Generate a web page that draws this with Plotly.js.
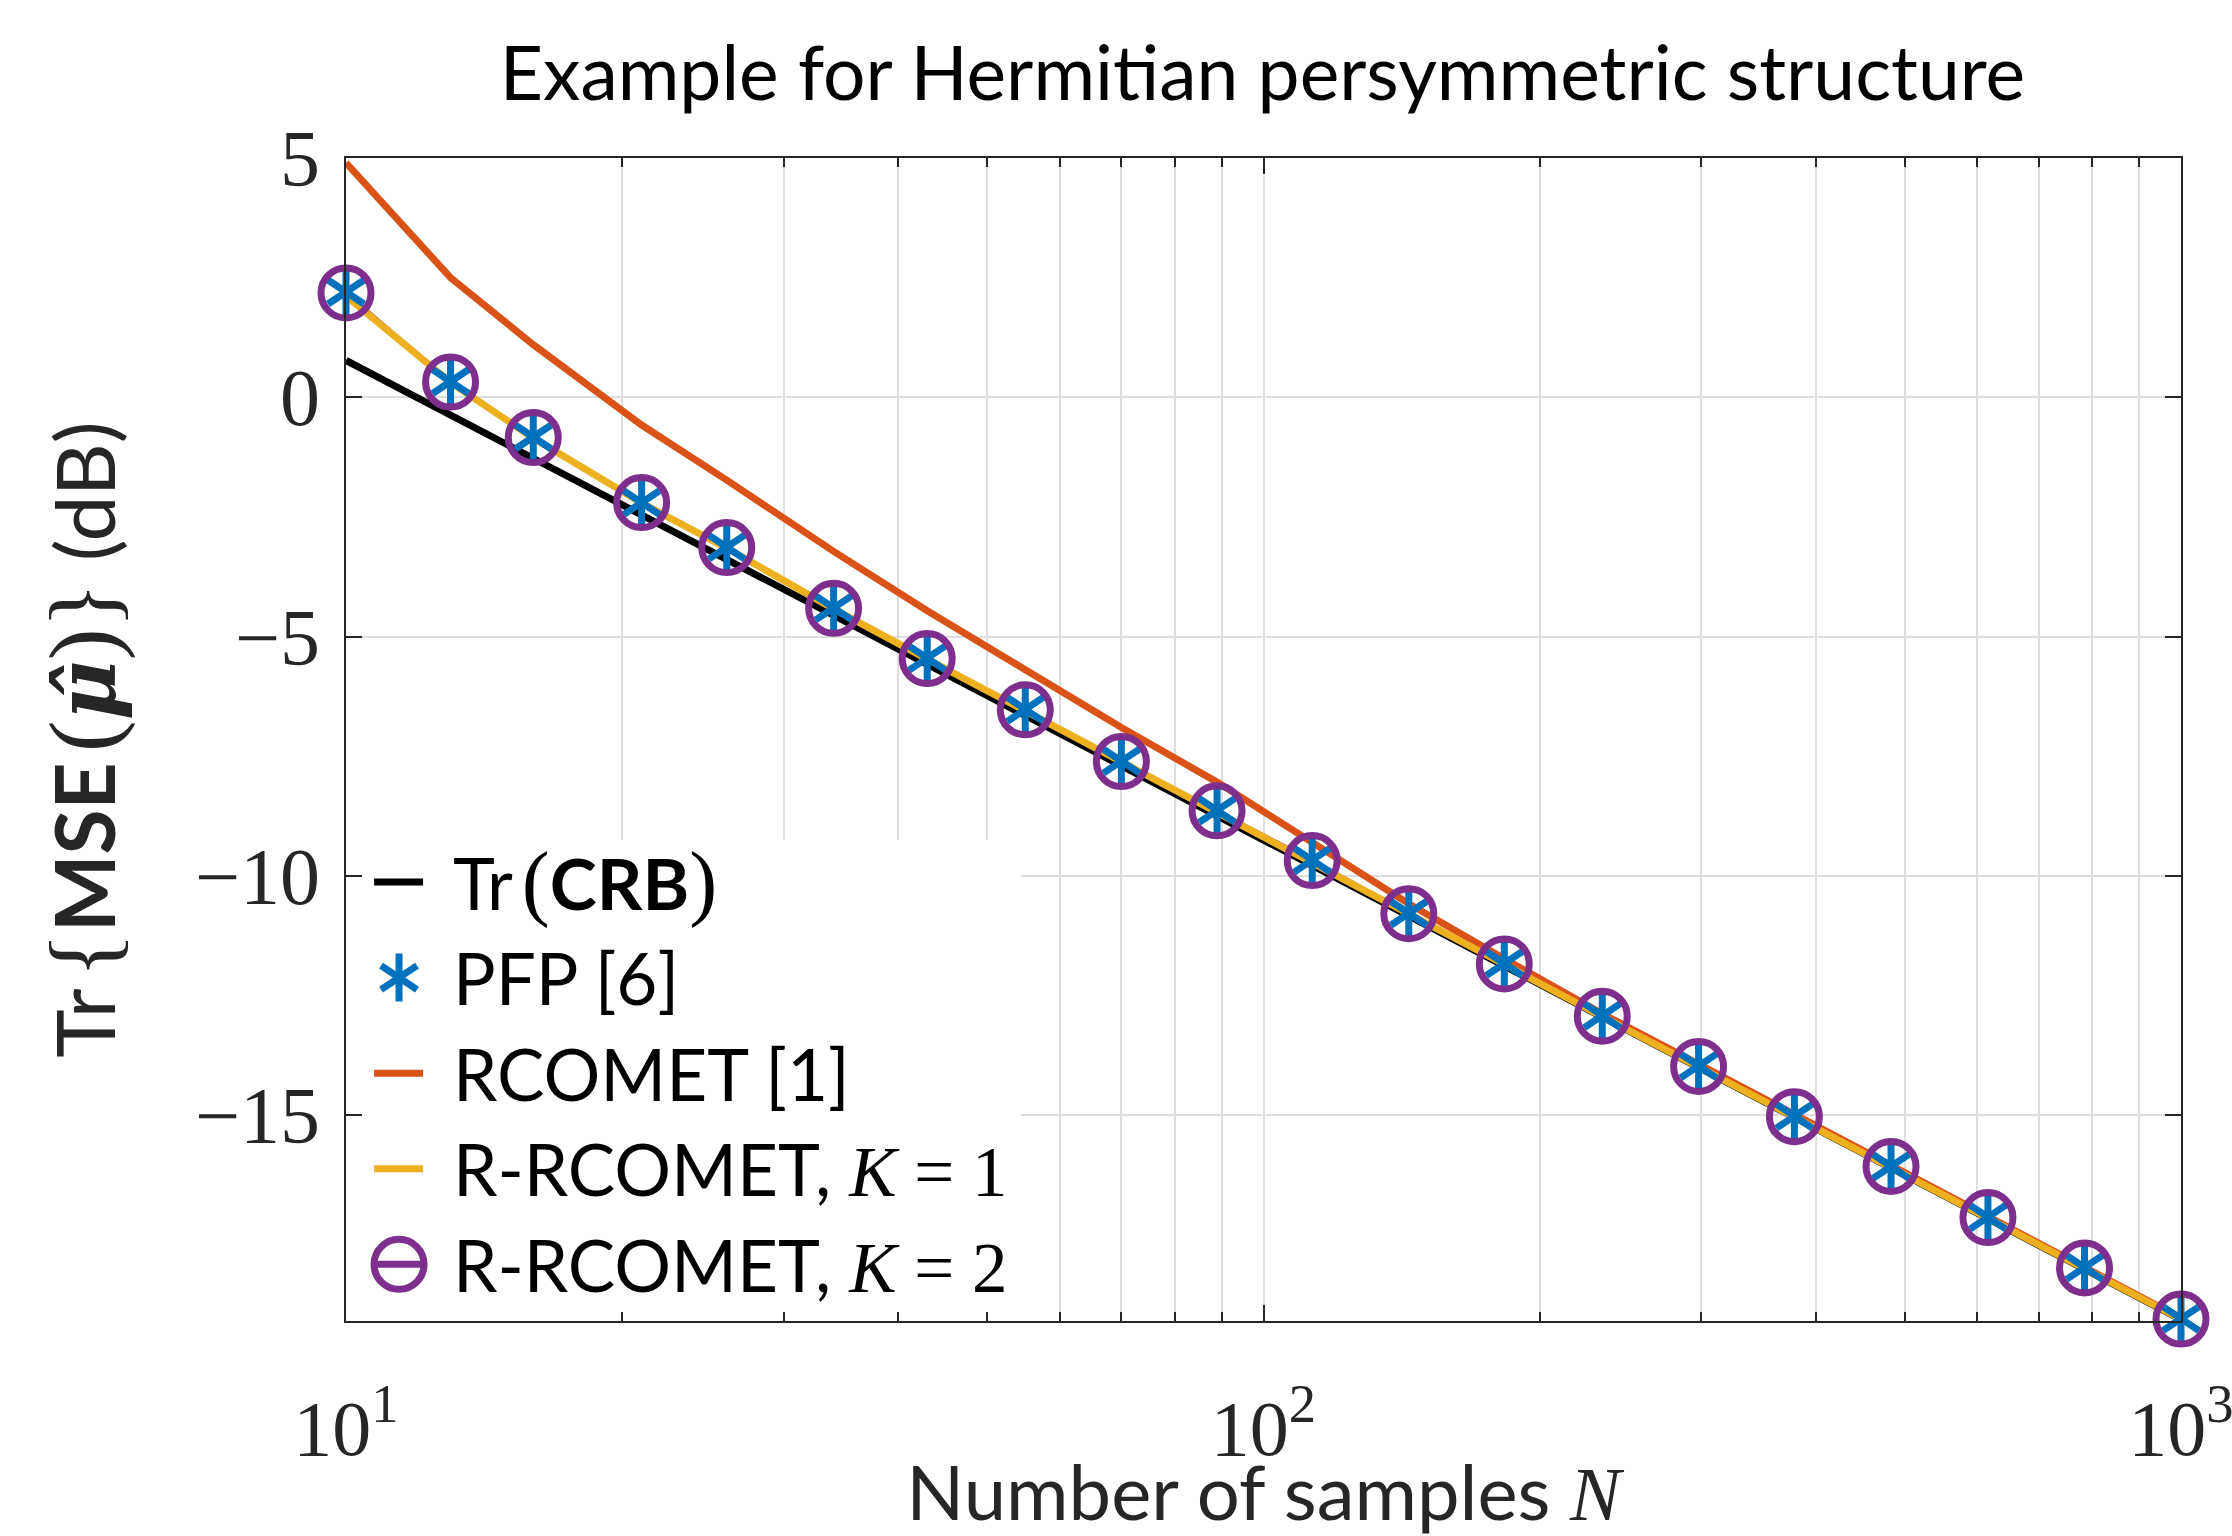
<!DOCTYPE html>
<html><head><meta charset="utf-8">
<script src="https://cdn.plot.ly/plotly-3.0.1.min.js"></script>
<style>html,body{margin:0;padding:0;background:#fff}</style>
</head><body>
<div id="chart" style="width:2232px;height:1536px"></div>
<script>
// ---- data ----
const N = [10,13,16,21,26,34,43,55,70,89,113,144,183,234,298,379,483,616,785,1000];
const crb = [0.77,-0.37,-1.27,-2.45,-3.40,-4.55,-5.57,-6.64,-7.70,-8.73,-9.77,-10.83,-11.88,-12.95,-14.00,-15.05,-16.10,-17.15,-18.20,-19.27];
const pfp = [2.20,0.33,-0.83,-2.20,-3.13,-4.40,-5.45,-6.52,-7.60,-8.63,-9.67,-10.78,-11.83,-12.92,-13.97,-15.02,-16.07,-17.13,-18.18,-19.25];
const rcomet = [4.90,2.50,1.10,-0.58,-1.73,-3.22,-4.46,-5.70,-6.90,-8.04,-9.28,-10.58,-11.73,-12.88,-13.93,-14.98,-16.04,-17.11,-18.17,-19.24];
const rrcometK1 = [2.12,0.31,-0.85,-2.21,-3.15,-4.42,-5.47,-6.55,-7.62,-8.66,-9.70,-10.80,-11.85,-12.94,-13.99,-15.04,-16.08,-17.14,-18.19,-19.26];
const rrcometK2 = [2.18,0.32,-0.84,-2.20,-3.14,-4.41,-5.46,-6.53,-7.61,-8.64,-9.68,-10.79,-11.84,-12.93,-13.98,-15.03,-16.07,-17.14,-18.19,-19.26];

const xTickVals = [10, 100, 1000];
const xTickText = ['10<sup>1</sup>', '10<sup>2</sup>', '10<sup>3</sup>'];
const yTickVals = [5, 0, -5, -10, -15];

// ---- styling ----
const SANS = 'Lato, "Open Sans", sans-serif';
const SERIF = '"Liberation Serif", "DejaVu Serif", serif';
const sr = (s, size) => "<span style='font-family:Liberation Serif" + (size ? ";font-size:" + size + "px" : "") + "'>" + s + "</span>";
const muHat = "<span style='font-family:DejaVu Serif'><b><i>\u03bc\u0302</i></b></span>";

const C_BLACK = '#000000', C_BLUE = '#0072BD', C_ORANGE = '#D95319', C_YELLOW = '#EDB120', C_PURPLE = '#7E2F8E';
const LW = 7;
const circleMarker = {symbol: 'circle-open', size: 50, color: C_PURPLE, line: {width: 7, color: C_PURPLE}};
// six-armed asterisk = upward Y + downward Y
const starUp = {symbol: 'y-up-open', size: 30, color: C_BLUE, line: {width: 7, color: C_BLUE}};
const starDown = {symbol: 'y-down-open', size: 30, color: C_BLUE, line: {width: 7, color: C_BLUE}};

const minorX = [];
[10, 100].forEach(d => { for (let k = 2; k <= 9; k++) minorX.push(k * d); });

// legend entries
const legendLabels = [
  'Tr\u2009' + sr('(', 84) + '<b>CRB</b>' + sr(')', 84),
  'PFP [6]',
  'RCOMET [1]',
  'R-RCOMET, ' + sr('<i>K</i> = 1'),
  'R-RCOMET, ' + sr('<i>K</i> = 2')
];
const legendKeys = ['line', 'star', 'line', 'line', 'line+circle'];
const legendColors = [C_BLACK, C_BLUE, C_ORANGE, C_YELLOW, C_PURPLE];

// legend box geometry (fractions of the plot area)
const LG = {x1: 0.3678, y1: 0.4136, rowTop: 0.3775, rowStep: 0.0822, keyX0: 0.0153, keyX1: 0.0420, keyXc: 0.0289, textX: 0.0572};
const rowY = i => LG.rowTop - i * LG.rowStep;

const traces = [
  {x: N, y: crb, mode: 'lines', name: 'Tr(CRB)', line: {color: C_BLACK, width: LW}},
  {x: N, y: rrcometK2, mode: 'lines', name: 'R-RCOMET, K = 2 (line)', line: {color: C_PURPLE, width: 4}},
  {x: N, y: rcomet, mode: 'lines', name: 'RCOMET [1]', line: {color: C_ORANGE, width: LW}},
  {x: N, y: rrcometK1, mode: 'lines', name: 'R-RCOMET, K = 1', line: {color: C_YELLOW, width: LW}},
  {x: N, y: pfp, mode: 'markers', name: 'PFP [6]', marker: starUp, cliponaxis: false},
  {x: N, y: pfp, mode: 'markers', name: 'PFP [6] (lower arms)', marker: starDown, cliponaxis: false},
  {x: N, y: rrcometK2, mode: 'markers', name: 'R-RCOMET, K = 2', marker: circleMarker, cliponaxis: false}
];

// ---- legend drawn on an overlay axis (0..1 over the plot area) ----
const ov = {xaxis: 'x2', yaxis: 'y2', hoverinfo: 'skip', cliponaxis: false};
traces.push(Object.assign({x: [0, LG.x1, LG.x1, 0, 0], y: [0, 0, LG.y1, LG.y1, 0], mode: 'lines',
  fill: 'toself', fillcolor: '#ffffff', line: {width: 0, color: 'rgba(0,0,0,0)'}}, ov));
legendKeys.forEach((k, i) => {
  if (k.indexOf('line') >= 0) {
    traces.push(Object.assign({x: [LG.keyX0, LG.keyX1], y: [rowY(i), rowY(i)], mode: 'lines',
      line: {color: legendColors[i], width: LW}}, ov));
  }
});
legendKeys.forEach((k, i) => {
  if (k.indexOf('star') >= 0) {
    traces.push(Object.assign({x: [LG.keyXc], y: [rowY(i)], mode: 'markers', marker: starUp}, ov));
    traces.push(Object.assign({x: [LG.keyXc], y: [rowY(i)], mode: 'markers', marker: starDown}, ov));
  }
  if (k.indexOf('circle') >= 0) traces.push(Object.assign({x: [LG.keyXc], y: [rowY(i)], mode: 'markers', marker: circleMarker}, ov));
});

const annotations = legendLabels.map((lab, i) => ({
  text: lab, xref: 'x domain', yref: 'y domain', x: LG.textX, y: rowY(i),
  xanchor: 'left', yanchor: 'middle', showarrow: false,
  font: {family: SANS, size: 71, color: '#000000'}
}));

const layout = {
  width: 2232, height: 1536,
  paper_bgcolor: '#ffffff', plot_bgcolor: '#ffffff',
  margin: {l: 346, r: 51, t: 158, b: 215, pad: 0},
  showlegend: false,
  title: {text: 'Example for Hermitian persymmetric structure',
          font: {family: SANS, size: 75, color: '#000000'},
          x: 0.5656, xref: 'container', xanchor: 'center', y: 0.952, yanchor: 'middle'},
  xaxis: {
    type: 'log', range: [1, 3.000001],
    tickvals: xTickVals, ticktext: xTickText, ticklabeloverflow: 'allow',
    tickfont: {family: SERIF, size: 78, color: '#262626'},
    ticks: 'inside', ticklen: 16, tickwidth: 2, tickcolor: '#262626',
    ticklabelstandoff: 38,
    showline: true, linecolor: '#262626', linewidth: 2, mirror: 'ticks',
    showgrid: true, gridcolor: '#dedede', gridwidth: 2, zeroline: false,
    minor: {tickvals: minorX, ticks: 'inside', ticklen: 9, tickwidth: 2, tickcolor: '#262626',
            showgrid: true, gridcolor: '#dedede', gridwidth: 2},
    title: {text: 'Number of samples ' + sr('<i>N</i>'),
            font: {family: SANS, size: 76, color: '#262626'}, standoff: 38},
    automargin: false
  },
  yaxis: {
    range: [-19.3, 5],
    tickvals: yTickVals,
    tickfont: {family: SERIF, size: 80, color: '#262626'},
    ticks: 'inside', ticklen: 16, tickwidth: 2, tickcolor: '#262626',
    ticklabelstandoff: 8,
    showline: true, linecolor: '#262626', linewidth: 2, mirror: 'ticks',
    showgrid: true, gridcolor: '#dedede', gridwidth: 2, zeroline: false,
    title: {text: 'Tr\u2009' + sr('{', 96) + '<b>MSE</b>\u2009' + sr('(', 96) + muHat + sr(')}', 96) + ' (dB)',
            font: {family: SANS, size: 82, color: '#262626'}, standoff: 52},
    automargin: false
  },
  xaxis2: {overlaying: 'x', anchor: 'y2', range: [0, 1], visible: false, fixedrange: true},
  yaxis2: {overlaying: 'y', anchor: 'x2', range: [0, 1], visible: false, fixedrange: true},
  annotations: annotations
};

Plotly.newPlot('chart', traces, layout, {displayModeBar: false, staticPlot: true});
</script>
</body></html>
